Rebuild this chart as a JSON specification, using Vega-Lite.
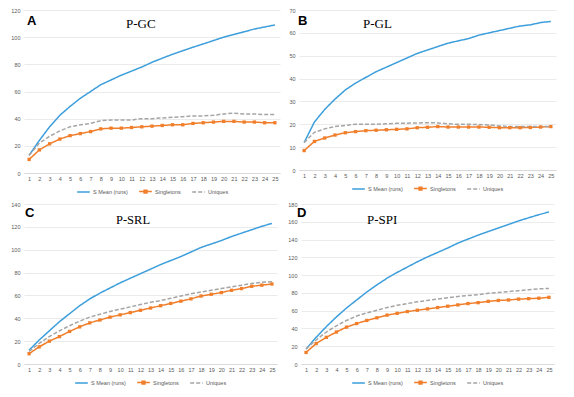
{
  "$schema": "https://vega.github.io/schema/vega-lite/v6.json",
  "background": "white",
  "padding": {"left": 10, "top": 8, "right": 4, "bottom": 2},
  "datasets": {
    "gc": [
      {"run": 1, "mean": 13, "singletons": 10, "uniques": 13},
      {"run": 2, "mean": 24, "singletons": 17, "uniques": 22},
      {"run": 3, "mean": 34, "singletons": 21.5, "uniques": 27},
      {"run": 4, "mean": 42.5, "singletons": 25, "uniques": 31},
      {"run": 5, "mean": 49, "singletons": 27.5, "uniques": 34},
      {"run": 6, "mean": 55, "singletons": 29, "uniques": 35.5},
      {"run": 7, "mean": 60, "singletons": 30.5, "uniques": 36.5},
      {"run": 8, "mean": 65, "singletons": 32.5, "uniques": 38.5},
      {"run": 9, "mean": 68.5, "singletons": 33, "uniques": 39},
      {"run": 10, "mean": 72, "singletons": 33, "uniques": 39},
      {"run": 11, "mean": 75, "singletons": 33.5, "uniques": 39},
      {"run": 12, "mean": 78, "singletons": 34, "uniques": 40},
      {"run": 13, "mean": 81.5, "singletons": 34.5, "uniques": 40},
      {"run": 14, "mean": 84.5, "singletons": 35, "uniques": 40.5},
      {"run": 15, "mean": 87.4, "singletons": 35.5, "uniques": 41},
      {"run": 16, "mean": 90, "singletons": 35.5, "uniques": 41.5},
      {"run": 17, "mean": 92.6, "singletons": 36.5, "uniques": 42},
      {"run": 18, "mean": 95, "singletons": 37, "uniques": 42},
      {"run": 19, "mean": 97.5, "singletons": 37.5, "uniques": 42.5},
      {"run": 20, "mean": 100, "singletons": 38, "uniques": 43.5},
      {"run": 21, "mean": 102, "singletons": 38, "uniques": 44},
      {"run": 22, "mean": 104, "singletons": 37.5, "uniques": 43.5},
      {"run": 23, "mean": 106, "singletons": 37.5, "uniques": 43.5},
      {"run": 24, "mean": 107.5, "singletons": 37, "uniques": 43},
      {"run": 25, "mean": 109, "singletons": 37, "uniques": 43}
    ],
    "gl": [
      {"run": 1, "mean": 12, "singletons": 8.5, "uniques": 12},
      {"run": 2, "mean": 21, "singletons": 12.5, "uniques": 16.5},
      {"run": 3, "mean": 26.5, "singletons": 14, "uniques": 18},
      {"run": 4, "mean": 31, "singletons": 15.3, "uniques": 19},
      {"run": 5, "mean": 35, "singletons": 16.3, "uniques": 19.5},
      {"run": 6, "mean": 38, "singletons": 16.8, "uniques": 20},
      {"run": 7, "mean": 40.5, "singletons": 17.2, "uniques": 20},
      {"run": 8, "mean": 43, "singletons": 17.4, "uniques": 20},
      {"run": 9, "mean": 45, "singletons": 17.6, "uniques": 20.2},
      {"run": 10, "mean": 47, "singletons": 17.8, "uniques": 20.4},
      {"run": 11, "mean": 49, "singletons": 18, "uniques": 20.5},
      {"run": 12, "mean": 51, "singletons": 18.5, "uniques": 20.6},
      {"run": 13, "mean": 52.5, "singletons": 18.7, "uniques": 20.7},
      {"run": 14, "mean": 54, "singletons": 19, "uniques": 20.6},
      {"run": 15, "mean": 55.5, "singletons": 18.8, "uniques": 20.2},
      {"run": 16, "mean": 56.5, "singletons": 18.8, "uniques": 20},
      {"run": 17, "mean": 57.5, "singletons": 18.8, "uniques": 20},
      {"run": 18, "mean": 59, "singletons": 18.8, "uniques": 19.9},
      {"run": 19, "mean": 60, "singletons": 18.7, "uniques": 19.7},
      {"run": 20, "mean": 61, "singletons": 18.5, "uniques": 19.3},
      {"run": 21, "mean": 62, "singletons": 18.5, "uniques": 19},
      {"run": 22, "mean": 63, "singletons": 18.5, "uniques": 19},
      {"run": 23, "mean": 63.5, "singletons": 18.6, "uniques": 19},
      {"run": 24, "mean": 64.5, "singletons": 18.8, "uniques": 19},
      {"run": 25, "mean": 65, "singletons": 19, "uniques": 19}
    ],
    "srl": [
      {"run": 1, "mean": 12, "singletons": 9, "uniques": 11},
      {"run": 2, "mean": 21, "singletons": 15, "uniques": 18},
      {"run": 3, "mean": 29, "singletons": 20, "uniques": 24},
      {"run": 4, "mean": 37, "singletons": 24, "uniques": 29},
      {"run": 5, "mean": 44, "singletons": 28.5, "uniques": 33.5},
      {"run": 6, "mean": 51, "singletons": 32.5, "uniques": 37.5},
      {"run": 7, "mean": 57, "singletons": 36, "uniques": 41},
      {"run": 8, "mean": 62, "singletons": 38.5, "uniques": 43.5},
      {"run": 9, "mean": 66.5, "singletons": 41, "uniques": 46},
      {"run": 10, "mean": 71, "singletons": 43, "uniques": 48},
      {"run": 11, "mean": 75, "singletons": 45, "uniques": 50},
      {"run": 12, "mean": 79, "singletons": 47, "uniques": 52},
      {"run": 13, "mean": 83, "singletons": 49, "uniques": 54},
      {"run": 14, "mean": 87, "singletons": 51, "uniques": 55.5},
      {"run": 15, "mean": 90.5, "singletons": 53, "uniques": 57.5},
      {"run": 16, "mean": 94, "singletons": 55, "uniques": 59.5},
      {"run": 17, "mean": 98, "singletons": 57, "uniques": 61.5},
      {"run": 18, "mean": 102, "singletons": 59.5, "uniques": 63},
      {"run": 19, "mean": 105, "singletons": 61, "uniques": 64.5},
      {"run": 20, "mean": 108, "singletons": 62.5, "uniques": 66},
      {"run": 21, "mean": 111.5, "singletons": 64.5, "uniques": 67.5},
      {"run": 22, "mean": 114.5, "singletons": 66, "uniques": 69},
      {"run": 23, "mean": 117.5, "singletons": 68, "uniques": 70.5},
      {"run": 24, "mean": 120.5, "singletons": 69, "uniques": 71.5},
      {"run": 25, "mean": 123, "singletons": 70, "uniques": 72}
    ],
    "spi": [
      {"run": 1, "mean": 17, "singletons": 13, "uniques": 17},
      {"run": 2, "mean": 30, "singletons": 23, "uniques": 27},
      {"run": 3, "mean": 42, "singletons": 30, "uniques": 36},
      {"run": 4, "mean": 53, "singletons": 36, "uniques": 43},
      {"run": 5, "mean": 63, "singletons": 41.5, "uniques": 49},
      {"run": 6, "mean": 72, "singletons": 45.5, "uniques": 54},
      {"run": 7, "mean": 81, "singletons": 49, "uniques": 57.5},
      {"run": 8, "mean": 89, "singletons": 52, "uniques": 60.5},
      {"run": 9, "mean": 96.5, "singletons": 55, "uniques": 63.5},
      {"run": 10, "mean": 103, "singletons": 57, "uniques": 66},
      {"run": 11, "mean": 109, "singletons": 59, "uniques": 68},
      {"run": 12, "mean": 115, "singletons": 60.5, "uniques": 70},
      {"run": 13, "mean": 120.5, "singletons": 62, "uniques": 71.5},
      {"run": 14, "mean": 125.5, "singletons": 63.5, "uniques": 73},
      {"run": 15, "mean": 130.5, "singletons": 65, "uniques": 74.5},
      {"run": 16, "mean": 136, "singletons": 66.5, "uniques": 76},
      {"run": 17, "mean": 140.5, "singletons": 68, "uniques": 77},
      {"run": 18, "mean": 145, "singletons": 69, "uniques": 78},
      {"run": 19, "mean": 149, "singletons": 70.5, "uniques": 79.5},
      {"run": 20, "mean": 153, "singletons": 71.5, "uniques": 80.5},
      {"run": 21, "mean": 157, "singletons": 72, "uniques": 81.5},
      {"run": 22, "mean": 161, "singletons": 73, "uniques": 82.5},
      {"run": 23, "mean": 164.5, "singletons": 73.5, "uniques": 83.5},
      {"run": 24, "mean": 168, "singletons": 74, "uniques": 84.5},
      {"run": 25, "mean": 171, "singletons": 75, "uniques": 85}
    ]
  },
  "config": {
    "font": "Liberation Sans",
    "view": {"stroke": null},
    "axis": {
      "labelFontSize": 5.5,
      "labelColor": "#595959",
      "labelFont": "Liberation Sans",
      "ticks": false,
      "title": null,
      "gridColor": "#e6e6e6",
      "gridWidth": 0.8,
      "domainColor": "#d9d9d9"
    },
    "axisY": {"domain": false, "labelPadding": 4},
    "axisX": {"grid": false, "labelAngle": 0, "labelPadding": 3},
    "legend": {
      "orient": "bottom",
      "direction": "horizontal",
      "title": null,
      "labelFontSize": 5.5,
      "labelColor": "#595959",
      "symbolSize": 160,
      "symbolStrokeWidth": 1.5,
      "columnPadding": 8,
      "labelOffset": 2,
      "offset": 2,
      "layout": {"bottom": {"anchor": "middle"}}
    },
    "title": {"anchor": "start", "frame": "group"},
    "concat": {"spacing": 8}
  },
  "resolve": {"scale": {"y": "independent", "color": "independent", "strokeDash": "independent"}, "legend": {"color": "independent", "strokeDash": "independent"}},
  "spacing": 6,
  "vconcat": [
    {
      "spacing": 8,
      "resolve": {"scale": {"y": "independent", "color": "independent", "strokeDash": "independent"}, "legend": {"color": "independent", "strokeDash": "independent"}},
      "hconcat": [
        {
          "title": {"text": "A", "fontSize": 13, "fontWeight": "bold", "color": "#000000", "offset": -20, "dx": 3},
          "resolve": {"scale": {"y": "independent", "color": "independent", "strokeDash": "independent"}, "legend": {"color": "independent", "strokeDash": "independent"}},
          "vconcat": [
            {
              "width": 256, "height": 163,
              "title": {"text": "P-GC", "font": "Liberation Serif", "fontSize": 13, "fontWeight": "normal", "color": "#000000", "offset": -23, "dx": 102},
              "data": {"name": "gc"},
              "transform": [{"fold": ["mean", "singletons", "uniques"], "as": ["series", "value"]}],
              "encoding": {
                "x": {"field": "run", "type": "ordinal", "sort": "ascending"},
                "y": {"field": "value", "type": "quantitative", "scale": {"domain": [0, 120]}, "axis": {"values": [0, 20, 40, 60, 80, 100, 120]}},
                "color": {"field": "series", "type": "nominal", "scale": {"domain": ["mean", "singletons", "uniques"], "range": ["#3d9edc", "#f07e2a", "#a5a5a5"]}, "legend": {"labelExpr": "datum.label == 'mean' ? 'S Mean (runs)' : datum.label == 'singletons' ? 'Singletons' : 'Uniques'", "encode": {"symbols": {"update": {"shape": {"signal": "datum.value == 'singletons' ? 'M-1,0H1M-0.22,-0.22H0.22V0.22H-0.22Z' : 'stroke'"}, "fill": {"signal": "datum.value == 'singletons' ? '#f07e2a' : 'transparent'"}}}}}},
                "strokeDash": {"field": "series", "type": "nominal", "scale": {"domain": ["mean", "singletons", "uniques"], "range": [[1, 0], [1, 0], [4, 2]]}, "legend": {"labelExpr": "datum.label == 'mean' ? 'S Mean (runs)' : datum.label == 'singletons' ? 'Singletons' : 'Uniques'"}}
              },
              "layer": [
                {"mark": {"type": "line", "strokeWidth": 1.5}},
                {"transform": [{"filter": "datum.series == 'singletons'"}], "mark": {"type": "point", "shape": "square", "filled": true, "size": 11, "opacity": 1}}
              ]
            }
          ]
        },
        {
          "title": {"text": "B", "fontSize": 13, "fontWeight": "bold", "color": "#000000", "offset": -20, "dx": -1},
          "resolve": {"scale": {"y": "independent", "color": "independent", "strokeDash": "independent"}, "legend": {"color": "independent", "strokeDash": "independent"}},
          "vconcat": [
            {
              "width": 257, "height": 160,
              "title": {"text": "P-GL", "font": "Liberation Serif", "fontSize": 13, "fontWeight": "normal", "color": "#000000", "offset": -23, "dx": 64},
              "data": {"name": "gl"},
              "transform": [{"fold": ["mean", "singletons", "uniques"], "as": ["series", "value"]}],
              "encoding": {
                "x": {"field": "run", "type": "ordinal", "sort": "ascending"},
                "y": {"field": "value", "type": "quantitative", "scale": {"domain": [0, 70]}, "axis": {"values": [0, 10, 20, 30, 40, 50, 60, 70]}},
                "color": {"field": "series", "type": "nominal", "scale": {"domain": ["mean", "singletons", "uniques"], "range": ["#3d9edc", "#f07e2a", "#a5a5a5"]}, "legend": {"labelExpr": "datum.label == 'mean' ? 'S Mean (runs)' : datum.label == 'singletons' ? 'Singletons' : 'Uniques'", "encode": {"symbols": {"update": {"shape": {"signal": "datum.value == 'singletons' ? 'M-1,0H1M-0.22,-0.22H0.22V0.22H-0.22Z' : 'stroke'"}, "fill": {"signal": "datum.value == 'singletons' ? '#f07e2a' : 'transparent'"}}}}}},
                "strokeDash": {"field": "series", "type": "nominal", "scale": {"domain": ["mean", "singletons", "uniques"], "range": [[1, 0], [1, 0], [4, 2]]}, "legend": {"labelExpr": "datum.label == 'mean' ? 'S Mean (runs)' : datum.label == 'singletons' ? 'Singletons' : 'Uniques'"}}
              },
              "layer": [
                {"mark": {"type": "line", "strokeWidth": 1.5}},
                {"transform": [{"filter": "datum.series == 'singletons'"}], "mark": {"type": "point", "shape": "square", "filled": true, "size": 11, "opacity": 1}}
              ]
            }
          ]
        }
      ]
    },
    {
      "spacing": 10,
      "resolve": {"scale": {"y": "independent", "color": "independent", "strokeDash": "independent"}, "legend": {"color": "independent", "strokeDash": "independent"}},
      "hconcat": [
        {
          "title": {"text": "C", "fontSize": 13, "fontWeight": "bold", "color": "#000000", "offset": -18, "dx": 1},
          "resolve": {"scale": {"y": "independent", "color": "independent", "strokeDash": "independent"}, "legend": {"color": "independent", "strokeDash": "independent"}},
          "vconcat": [
            {
              "width": 253, "height": 160,
              "title": {"text": "P-SRL", "font": "Liberation Serif", "fontSize": 12.5, "fontWeight": "normal", "color": "#000000", "offset": -24, "dx": 92},
              "data": {"name": "srl"},
              "transform": [{"fold": ["mean", "singletons", "uniques"], "as": ["series", "value"]}],
              "encoding": {
                "x": {"field": "run", "type": "ordinal", "sort": "ascending"},
                "y": {"field": "value", "type": "quantitative", "scale": {"domain": [0, 140]}, "axis": {"values": [0, 20, 40, 60, 80, 100, 120, 140]}},
                "color": {"field": "series", "type": "nominal", "scale": {"domain": ["mean", "singletons", "uniques"], "range": ["#3d9edc", "#f07e2a", "#a5a5a5"]}, "legend": {"labelExpr": "datum.label == 'mean' ? 'S Mean (runs)' : datum.label == 'singletons' ? 'Singletons' : 'Uniques'", "encode": {"symbols": {"update": {"shape": {"signal": "datum.value == 'singletons' ? 'M-1,0H1M-0.22,-0.22H0.22V0.22H-0.22Z' : 'stroke'"}, "fill": {"signal": "datum.value == 'singletons' ? '#f07e2a' : 'transparent'"}}}}}},
                "strokeDash": {"field": "series", "type": "nominal", "scale": {"domain": ["mean", "singletons", "uniques"], "range": [[1, 0], [1, 0], [4, 2]]}, "legend": {"labelExpr": "datum.label == 'mean' ? 'S Mean (runs)' : datum.label == 'singletons' ? 'Singletons' : 'Uniques'"}}
              },
              "layer": [
                {"mark": {"type": "line", "strokeWidth": 1.5}},
                {"transform": [{"filter": "datum.series == 'singletons'"}], "mark": {"type": "point", "shape": "square", "filled": true, "size": 11, "opacity": 1}}
              ]
            }
          ]
        },
        {
          "title": {"text": "D", "fontSize": 13, "fontWeight": "bold", "color": "#000000", "offset": -18, "dx": -4},
          "resolve": {"scale": {"y": "independent", "color": "independent", "strokeDash": "independent"}, "legend": {"color": "independent", "strokeDash": "independent"}},
          "vconcat": [
            {
              "width": 253, "height": 160,
              "title": {"text": "P-SPI", "font": "Liberation Serif", "fontSize": 13, "fontWeight": "normal", "color": "#000000", "offset": -25, "dx": 66},
              "data": {"name": "spi"},
              "transform": [{"fold": ["mean", "singletons", "uniques"], "as": ["series", "value"]}],
              "encoding": {
                "x": {"field": "run", "type": "ordinal", "sort": "ascending"},
                "y": {"field": "value", "type": "quantitative", "scale": {"domain": [0, 180]}, "axis": {"values": [0, 20, 40, 60, 80, 100, 120, 140, 160, 180]}},
                "color": {"field": "series", "type": "nominal", "scale": {"domain": ["mean", "singletons", "uniques"], "range": ["#3d9edc", "#f07e2a", "#a5a5a5"]}, "legend": {"labelExpr": "datum.label == 'mean' ? 'S Mean (runs)' : datum.label == 'singletons' ? 'Singletons' : 'Uniques'", "encode": {"symbols": {"update": {"shape": {"signal": "datum.value == 'singletons' ? 'M-1,0H1M-0.22,-0.22H0.22V0.22H-0.22Z' : 'stroke'"}, "fill": {"signal": "datum.value == 'singletons' ? '#f07e2a' : 'transparent'"}}}}}},
                "strokeDash": {"field": "series", "type": "nominal", "scale": {"domain": ["mean", "singletons", "uniques"], "range": [[1, 0], [1, 0], [4, 2]]}, "legend": {"labelExpr": "datum.label == 'mean' ? 'S Mean (runs)' : datum.label == 'singletons' ? 'Singletons' : 'Uniques'"}}
              },
              "layer": [
                {"mark": {"type": "line", "strokeWidth": 1.5}},
                {"transform": [{"filter": "datum.series == 'singletons'"}], "mark": {"type": "point", "shape": "square", "filled": true, "size": 11, "opacity": 1}}
              ]
            }
          ]
        }
      ]
    }
  ]
}
